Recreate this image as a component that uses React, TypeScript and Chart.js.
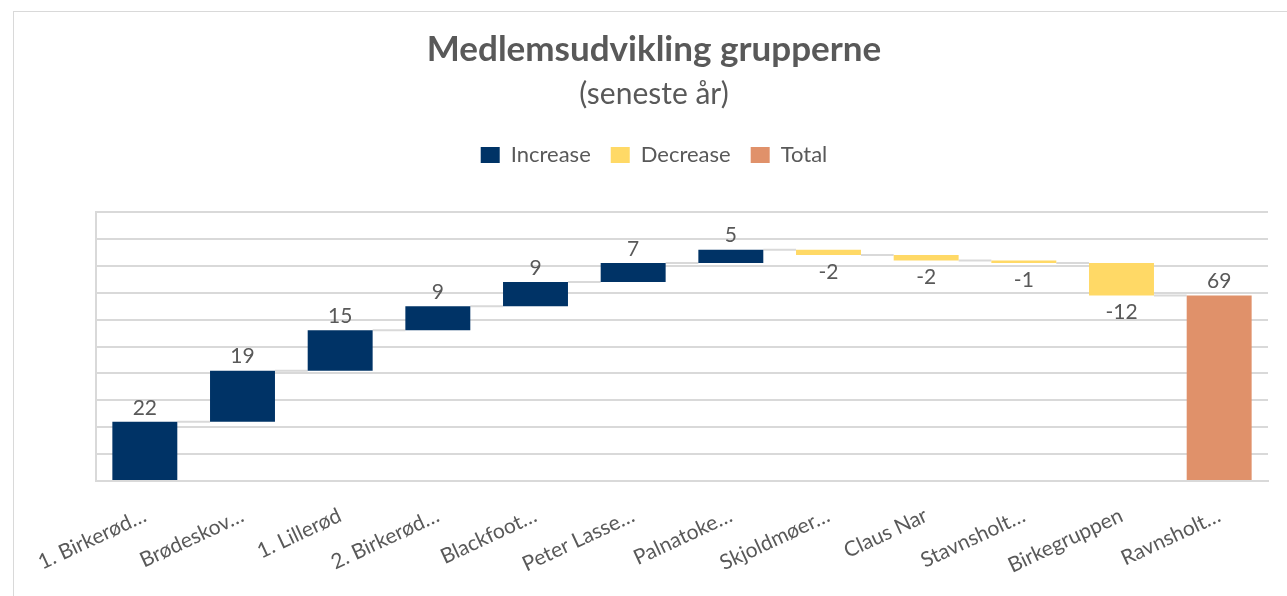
import React, { useEffect, useRef } from "react";
import { Chart, registerables } from "chart.js";

Chart.register(...registerables);

const categories = [
  "1. Birkerød…",
  "Brødeskov…",
  "1. Lillerød",
  "2. Birkerød…",
  "Blackfoot…",
  "Peter Lasse…",
  "Palnatoke…",
  "Skjoldmøer…",
  "Claus Nar",
  "Stavnsholt…",
  "Birkegruppen",
  "Ravnsholt…",
];
const changes = [22, 19, 15, 9, 9, 7, 5, -2, -2, -1, -12];
const totalValue = 69;
const yTicks = { min: 0, max: 100, step: 10 };
const legendNames = ["Increase", "Decrease", "Total"];

const COLORS = {
  increase: "#003366",
  decrease: "#FFD966",
  total: "#E0916A",
  text: "#595959",
  grid: "#D9D9D9",
};
const FONT = "Lato, 'Open Sans', sans-serif";

export default function App() {
  const ref = useRef<HTMLCanvasElement | null>(null);

  useEffect(() => {
    document.body.style.margin = "0";
    const canvas = ref.current;
    if (!canvas) return;

    const inc: ([number, number] | null)[] = [];
    const dec: ([number, number] | null)[] = [];
    const tot: ([number, number] | null)[] = [];
    const levels: number[] = [];
    const labelsText: string[] = [];
    let run = 0;
    changes.forEach((c) => {
      const start = run;
      run += c;
      levels.push(run);
      labelsText.push(String(c));
      if (c >= 0) {
        inc.push([start, run]);
        dec.push(null);
      } else {
        dec.push([start, run]);
        inc.push(null);
      }
      tot.push(null);
    });
    inc.push(null);
    dec.push(null);
    tot.push([0, totalValue]);
    labelsText.push(String(totalValue));
    levels.push(totalValue);

    const framePlugin = {
      id: "frame",
      beforeDraw(chart: any) {
        const ctx = chart.ctx;
        ctx.save();
        ctx.fillStyle = "#ffffff";
        ctx.fillRect(0, 0, chart.width, chart.height);
        ctx.strokeStyle = COLORS.grid;
        ctx.lineWidth = 1;
        ctx.strokeRect(13.5, 11.5, chart.width + 50, chart.height + 50);
        ctx.restore();
      },
    };

    const findBar = (chart: any, i: number) => {
      for (let d = 0; d < chart.data.datasets.length; d++) {
        if (chart.data.datasets[d].data[i] != null) {
          return chart.getDatasetMeta(d).data[i];
        }
      }
      return null;
    };

    const connectorPlugin = {
      id: "connectors",
      beforeDatasetsDraw(chart: any) {
        const ctx = chart.ctx;
        const y = chart.scales.y;
        ctx.save();
        ctx.strokeStyle = COLORS.grid;
        ctx.lineWidth = 2;
        for (let i = 0; i < categories.length - 1; i++) {
          const a = findBar(chart, i);
          const b = findBar(chart, i + 1);
          if (!a || !b) continue;
          const py = y.getPixelForValue(levels[i]);
          ctx.beginPath();
          ctx.moveTo(a.x + a.width / 2, py);
          ctx.lineTo(b.x - b.width / 2, py);
          ctx.stroke();
        }
        ctx.restore();
      },
    };

    const valueLabelPlugin = {
      id: "valueLabels",
      afterDatasetsDraw(chart: any) {
        const ctx = chart.ctx;
        ctx.save();
        ctx.fillStyle = COLORS.text;
        ctx.font = `21px ${FONT}`;
        ctx.textAlign = "center";
        ctx.textBaseline = "middle";
        for (let i = 0; i < categories.length; i++) {
          const el = findBar(chart, i);
          if (!el) continue;
          const v = i < changes.length ? changes[i] : totalValue;
          const top = Math.min(el.y, el.base);
          const bottom = Math.max(el.y, el.base);
          const yy = v >= 0 ? top - 14 : bottom + 17;
          ctx.fillText(labelsText[i], el.x, yy);
        }
        ctx.restore();
      },
    };

    const barOpts = {
      grouped: false,
      barPercentage: 1,
      categoryPercentage: 0.665,
      borderWidth: 0,
    };

    const chart = new Chart(canvas, {
      type: "bar",
      data: {
        labels: categories,
        datasets: [
          { label: legendNames[0], data: inc as any, backgroundColor: COLORS.increase, ...barOpts },
          { label: legendNames[1], data: dec as any, backgroundColor: COLORS.decrease, ...barOpts },
          { label: legendNames[2], data: tot as any, backgroundColor: COLORS.total, ...barOpts },
        ],
      },
      options: {
        animation: false,
        responsive: false,
        layout: { padding: { left: 21, right: 0, top: 0, bottom: 0 } },
        plugins: {
          title: {
            display: true,
            text: "Medlemsudvikling grupperne",
            color: COLORS.text,
            font: { family: FONT, size: 35, weight: "bold" },
            padding: { top: 29, bottom: 5 },
          },
          subtitle: {
            display: true,
            text: "(seneste år)",
            color: COLORS.text,
            font: { family: FONT, size: 30 },
            padding: { top: 0, bottom: 12 },
          },
          legend: {
            display: true,
            position: "top",
            labels: {
              color: COLORS.text,
              font: { family: FONT, size: 22 },
              boxWidth: 19,
              boxHeight: 16,
              padding: 20,
            },
          },
          tooltip: { enabled: false },
        },
        scales: {
          x: {
            type: "category",
            position: "bottom",
            grid: { display: false, drawTicks: false },
            border: { display: true, color: COLORS.grid, width: 2 },
            ticks: {
              autoSkip: false,
              minRotation: 25,
              maxRotation: 25,
              padding: 22,
              color: COLORS.text,
              font: { family: FONT, size: 21 },
            },
            afterFit: (s: any) => {
              s.height = 115;
            },
          },
          xTop: {
            type: "category",
            position: "top",
            display: true,
            grid: { display: false, drawTicks: false },
            border: { display: false },
            ticks: { display: false },
            afterFit: (s: any) => {
              s.height = 36;
            },
          },
          y: {
            min: yTicks.min,
            max: yTicks.max,
            ticks: { display: false, stepSize: yTicks.step },
            grid: { color: COLORS.grid, lineWidth: 2, drawTicks: false },
            border: { display: true, color: COLORS.grid, width: 2 },
            afterFit: (s: any) => {
              s.width = 75;
            },
          },
          yRight: {
            type: "linear",
            position: "right",
            display: true,
            grid: { display: false, drawTicks: false },
            border: { display: false },
            ticks: { display: false },
            afterFit: (s: any) => {
              s.width = 19;
            },
          },
        },
      },
      plugins: [framePlugin, connectorPlugin, valueLabelPlugin],
    } as any);

    return () => chart.destroy();
  }, []);

  return (
    <div style={{ width: 1287, height: 596 }}>
      <canvas ref={ref} width={1287} height={596} style={{ display: "block", width: 1287, height: 596 }} />
    </div>
  );
}
